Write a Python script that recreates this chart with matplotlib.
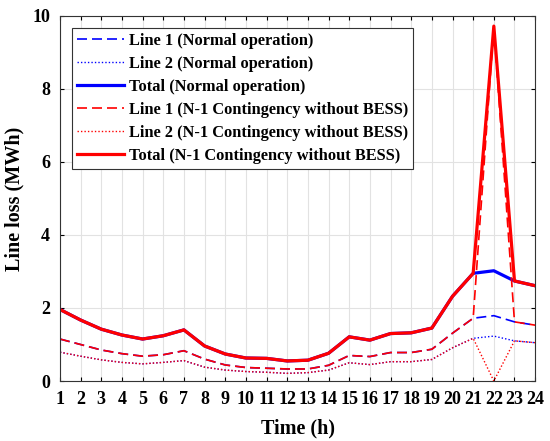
import matplotlib
matplotlib.use("Agg")
import matplotlib.pyplot as plt

hours = list(range(1, 25))

# N-1 contingency without BESS
line1_n1 = [1.15, 1.00, 0.85, 0.75, 0.68, 0.72, 0.83, 0.60, 0.44, 0.37, 0.35, 0.33,
            0.33, 0.43, 0.70, 0.67, 0.78, 0.78, 0.87, 1.31, 1.72, 9.70, 1.62, 1.53]
line2_n1 = [0.79, 0.68, 0.58, 0.51, 0.47, 0.51, 0.56, 0.38, 0.30, 0.26, 0.24, 0.21,
            0.23, 0.30, 0.50, 0.45, 0.53, 0.53, 0.59, 0.91, 1.17, 0.00, 1.10, 1.05]
total_n1 = [1.96, 1.67, 1.42, 1.26, 1.15, 1.24, 1.40, 0.96, 0.74, 0.63, 0.62, 0.55,
            0.57, 0.76, 1.21, 1.12, 1.30, 1.32, 1.45, 2.32, 2.95, 9.72, 2.74, 2.61]

# normal operation (differs only at hour 22)
line1_norm = line1_n1[:21] + [1.79] + line1_n1[22:]
line2_norm = line2_n1[:21] + [1.23] + line2_n1[22:]
total_norm = total_n1[:21] + [3.02] + total_n1[22:]

plt.rcParams['font.family'] = ['Liberation Serif', 'DejaVu Serif']
plt.rcParams['font.weight'] = 'bold'

fig = plt.figure(figsize=(5.5, 4.41), dpi=100)
ax = fig.add_axes([0.109, 0.136, 0.864, 0.828])

ax.plot(hours, line1_norm, color='blue', linestyle=(0, (6, 3)), linewidth=1.2, label='Line 1 (Normal operation)')
ax.plot(hours, line2_norm, color='blue', linestyle=(0, (1, 1.5)), linewidth=1.0, label='Line 2 (Normal operation)')
ax.plot(hours, total_norm, color='blue', linestyle='-', linewidth=2.3, label='Total (Normal operation)')
ax.plot(hours, line1_n1, color='red', linestyle=(0, (6, 3)), linewidth=1.2, label='Line 1 (N-1 Contingency without BESS)')
ax.plot(hours, line2_n1, color='red', linestyle=(0, (1, 1.5)), linewidth=1.0, label='Line 2 (N-1 Contingency without BESS)')
ax.plot(hours, total_n1, color='red', linestyle='-', linewidth=2.3, label='Total (N-1 Contingency without BESS)')

ax.set_xlim(1, 24)
ax.set_ylim(0, 10)
ax.set_xticks(hours)
ax.set_yticks([0, 2, 4, 6, 8, 10])
ax.grid(True, color='#e2e2e2', linewidth=0.8)
ax.set_axisbelow(True)
ax.tick_params(direction='in', top=True, right=True, length=3, labelsize=13, pad=7)
for s in ax.spines.values():
    s.set_color('#333333')
    s.set_linewidth(0.8)

ax.set_xlabel('Time (h)', fontsize=14.5, fontweight='bold', labelpad=8)
ax.set_ylabel('Line loss (MWh)', fontsize=14.5, fontweight='bold', labelpad=6)

leg = ax.legend(loc='upper left', bbox_to_anchor=(0.025, 0.967), fontsize=11.8,
                frameon=True, fancybox=False, edgecolor='#333333', framealpha=1,
                labelspacing=0.43, handlelength=2.9, handletextpad=0.3, borderpad=0.3,
                borderaxespad=0)
leg.get_frame().set_linewidth(0.8)

fig.savefig('out.png', dpi=100)
